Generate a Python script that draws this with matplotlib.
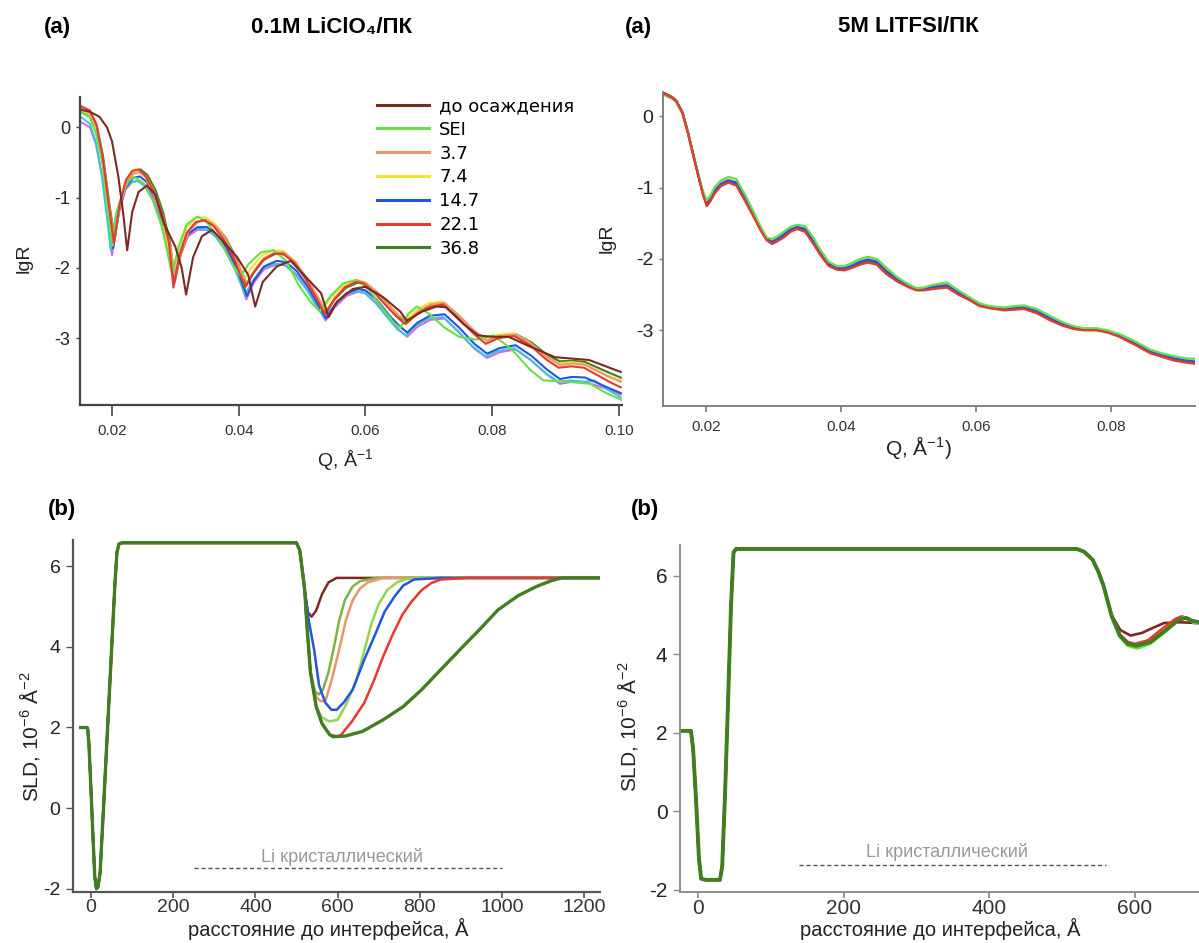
import numpy as np
import matplotlib
matplotlib.use("Agg")
import matplotlib.pyplot as plt

plt.rcParams['font.family'] = ['Liberation Sans', 'DejaVu Sans']
plt.rcParams['mathtext.fontset'] = 'custom'
plt.rcParams['mathtext.rm'] = 'Liberation Sans'
plt.rcParams['mathtext.it'] = 'Liberation Sans:italic'
plt.rcParams['mathtext.bf'] = 'Liberation Sans:bold'
plt.rcParams['axes.unicode_minus'] = False

W, H = 1199, 943

labels = ["до осаждения", "SEI", "3.7", "7.4", "14.7", "22.1", "36.8"]
colors = ["#7a2a20", "#66e04a", "#f0956a", "#f2e52c", "#2255e0", "#e8392e", "#3f7f22"]
sld_colors = ["#7a2a20", "#7cb342", "#e8956a", "#8fd651", "#2255e0", "#e8392e", "#3f7f22"]

# ---------- (a) 0.1M LiClO4 : reflectivity, one Q list per curve ----------
qa = {}
ra = {}
qa["до осаждения"] = [0.0150, 0.0165, 0.0180, 0.0192, 0.0200, 0.0210, 0.0218, 0.0224, 0.0232, 0.0242,
                      0.0255, 0.0268, 0.0282, 0.0300, 0.0310, 0.0317, 0.0328, 0.0342, 0.0358, 0.0375,
                      0.0397, 0.0415, 0.0426, 0.0438, 0.0460, 0.0482, 0.0506, 0.0530, 0.0542, 0.0555,
                      0.0580, 0.0600, 0.0627, 0.0655, 0.0665, 0.0690, 0.0712, 0.0727, 0.0755, 0.0778,
                      0.0800, 0.0826, 0.0860, 0.0899, 0.0953, 0.1003]
ra["до осаждения"] = [0.25, 0.22, 0.15, 0.00, -0.20, -0.70, -1.25, -1.75, -1.20, -0.92,
                      -0.83, -0.95, -1.37, -1.70, -2.00, -2.38, -1.85, -1.55, -1.46, -1.62,
                      -1.84, -2.10, -2.55, -2.20, -1.98, -1.90, -2.13, -2.36, -2.70, -2.48,
                      -2.30, -2.27, -2.41, -2.62, -2.75, -2.62, -2.55, -2.56, -2.80, -2.96,
                      -2.98, -2.98, -3.12, -3.27, -3.31, -3.48]
qa["SEI"] = [0.0150, 0.0165, 0.0175, 0.0186, 0.0194, 0.0200, 0.0208, 0.0220, 0.0230, 0.0238,
             0.0250, 0.0265, 0.0280, 0.0288, 0.0295, 0.0305, 0.0318, 0.0335, 0.0350, 0.0370,
             0.0390, 0.0403, 0.0415, 0.0435, 0.0455, 0.0475, 0.0495, 0.0515, 0.0528, 0.0545,
             0.0565, 0.0586, 0.0605, 0.0625, 0.0645, 0.0655, 0.0668, 0.0681, 0.0700, 0.0725,
             0.0748, 0.0775, 0.0802, 0.0830, 0.0860, 0.0881, 0.0920, 0.0955, 0.0980, 0.1005]
ra["SEI"] = [0.22, 0.15, -0.10, -0.55, -1.20, -1.68, -1.20, -0.85, -0.73, -0.72,
             -0.80, -1.05, -1.45, -1.80, -2.10, -1.70, -1.38, -1.27, -1.35, -1.60,
             -1.95, -2.12, -1.95, -1.78, -1.75, -1.90, -2.25, -2.50, -2.62, -2.40,
             -2.22, -2.17, -2.30, -2.55, -2.78, -2.85, -2.65, -2.55, -2.65, -2.85,
             -2.98, -3.02, -2.96, -3.15, -3.45, -3.60, -3.62, -3.65, -3.78, -3.88]
qa["3.7"] = [0.0150, 0.0165, 0.0176, 0.0186, 0.0196, 0.0204, 0.0213, 0.0224, 0.0234, 0.0244,
             0.0255, 0.0268, 0.0280, 0.0292, 0.0300, 0.0309, 0.0321, 0.0336, 0.0350, 0.0365,
             0.0380, 0.0396, 0.0413, 0.0424, 0.0440, 0.0458, 0.0473, 0.0490, 0.0508, 0.0524,
             0.0538, 0.0552, 0.0570, 0.0588, 0.0600, 0.0618, 0.0638, 0.0653, 0.0667, 0.0683,
             0.0703, 0.0725, 0.0748, 0.0772, 0.0792, 0.0812, 0.0837, 0.0862, 0.0887, 0.0907,
             0.0927, 0.0947, 0.0967, 0.0987, 0.1003]
ra["3.7"] = [0.28, 0.20, 0.00, -0.45, -1.15, -1.60, -1.10, -0.78, -0.66, -0.64,
             -0.72, -0.94, -1.25, -1.70, -2.15, -1.80, -1.48, -1.34, -1.33, -1.42,
             -1.60, -1.88, -2.22, -2.05, -1.86, -1.78, -1.79, -1.92, -2.16, -2.40,
             -2.62, -2.42, -2.26, -2.19, -2.21, -2.34, -2.54, -2.68, -2.76, -2.62,
             -2.52, -2.50, -2.68, -2.90, -3.04, -2.97, -2.95, -3.08, -3.27, -3.38,
             -3.36, -3.38, -3.47, -3.56, -3.62]
qa["7.4"] = [0.0150, 0.0165, 0.0175, 0.0185, 0.0194, 0.0201, 0.0210, 0.0221, 0.0231, 0.0241,
             0.0252, 0.0265, 0.0278, 0.0289, 0.0297, 0.0306, 0.0318, 0.0333, 0.0347, 0.0362,
             0.0377, 0.0393, 0.0409, 0.0420, 0.0437, 0.0455, 0.0470, 0.0487, 0.0505, 0.0520,
             0.0533, 0.0548, 0.0566, 0.0584, 0.0596, 0.0614, 0.0634, 0.0650, 0.0663, 0.0680,
             0.0700, 0.0722, 0.0745, 0.0769, 0.0789, 0.0809, 0.0834, 0.0859, 0.0884, 0.0904,
             0.0924, 0.0944, 0.0964, 0.0984, 0.1003]
ra["7.4"] = [0.26, 0.18, -0.05, -0.50, -1.20, -1.68, -1.15, -0.78, -0.64, -0.62,
             -0.70, -0.92, -1.25, -1.70, -2.05, -1.72, -1.42, -1.29, -1.28, -1.37,
             -1.56, -1.84, -2.15, -2.00, -1.82, -1.75, -1.76, -1.90, -2.14, -2.38,
             -2.58, -2.40, -2.24, -2.17, -2.19, -2.32, -2.52, -2.66, -2.74, -2.60,
             -2.50, -2.48, -2.66, -2.88, -3.02, -2.95, -2.93, -3.06, -3.25, -3.36,
             -3.34, -3.36, -3.45, -3.54, -3.60]
qa["14.7"] = [0.0150, 0.0165, 0.0175, 0.0185, 0.0195, 0.0202, 0.0211, 0.0222, 0.0233, 0.0244,
              0.0255, 0.0268, 0.0280, 0.0291, 0.0299, 0.0308, 0.0320, 0.0335, 0.0350, 0.0365,
              0.0380, 0.0396, 0.0413, 0.0424, 0.0440, 0.0460, 0.0475, 0.0492, 0.0510, 0.0525,
              0.0538, 0.0552, 0.0570, 0.0588, 0.0600, 0.0618, 0.0638, 0.0653, 0.0666, 0.0682,
              0.0702, 0.0725, 0.0748, 0.0772, 0.0792, 0.0812, 0.0837, 0.0862, 0.0887, 0.0907,
              0.0927, 0.0947, 0.0967, 0.0987, 0.1003]
ra["14.7"] = [0.22, 0.15, -0.05, -0.48, -1.20, -1.72, -1.20, -0.85, -0.72, -0.70,
              -0.78, -1.00, -1.32, -1.75, -2.15, -1.80, -1.52, -1.42, -1.42, -1.52,
              -1.70, -1.98, -2.40, -2.18, -1.98, -1.90, -1.92, -2.05, -2.28, -2.52,
              -2.72, -2.52, -2.36, -2.30, -2.32, -2.45, -2.68, -2.82, -2.92, -2.78,
              -2.68, -2.66, -2.85, -3.08, -3.22, -3.14, -3.10, -3.25, -3.45, -3.58,
              -3.55, -3.56, -3.64, -3.72, -3.78]
qa["22.1"] = [0.0150, 0.0165, 0.0175, 0.0185, 0.0195, 0.0203, 0.0212, 0.0222, 0.0232, 0.0242,
              0.0252, 0.0265, 0.0278, 0.0290, 0.0297, 0.0306, 0.0318, 0.0332, 0.0345, 0.0360,
              0.0375, 0.0392, 0.0410, 0.0421, 0.0437, 0.0455, 0.0470, 0.0488, 0.0505, 0.0522,
              0.0536, 0.0550, 0.0567, 0.0585, 0.0597, 0.0615, 0.0635, 0.0650, 0.0663, 0.0680,
              0.0700, 0.0722, 0.0745, 0.0770, 0.0790, 0.0810, 0.0835, 0.0860, 0.0885, 0.0905,
              0.0925, 0.0945, 0.0965, 0.0985, 0.1003]
ra["22.1"] = [0.30, 0.24, 0.05, -0.40, -1.10, -1.65, -1.10, -0.75, -0.62, -0.60,
              -0.68, -0.90, -1.20, -1.65, -2.28, -1.85, -1.50, -1.35, -1.32, -1.40,
              -1.58, -1.85, -2.28, -2.10, -1.90, -1.80, -1.80, -1.93, -2.15, -2.42,
              -2.66, -2.46, -2.28, -2.20, -2.22, -2.36, -2.56, -2.70, -2.80, -2.66,
              -2.56, -2.52, -2.70, -2.93, -3.08, -3.00, -2.97, -3.10, -3.30, -3.42,
              -3.40, -3.42, -3.52, -3.62, -3.70]
qa["36.8"] = [0.0150, 0.0165, 0.0176, 0.0186, 0.0196, 0.0204, 0.0213, 0.0224, 0.0235, 0.0245,
              0.0256, 0.0269, 0.0281, 0.0292, 0.0299, 0.0308, 0.0321, 0.0336, 0.0350, 0.0365,
              0.0380, 0.0396, 0.0412, 0.0423, 0.0440, 0.0458, 0.0473, 0.0490, 0.0508, 0.0524,
              0.0538, 0.0552, 0.0570, 0.0588, 0.0600, 0.0618, 0.0638, 0.0653, 0.0666, 0.0683,
              0.0703, 0.0725, 0.0748, 0.0772, 0.0792, 0.0812, 0.0837, 0.0862, 0.0887, 0.0907,
              0.0927, 0.0947, 0.0967, 0.0987, 0.1003]
ra["36.8"] = [0.30, 0.22, 0.02, -0.42, -1.10, -1.58, -1.08, -0.74, -0.62, -0.60,
              -0.68, -0.90, -1.22, -1.66, -2.20, -1.82, -1.48, -1.34, -1.32, -1.41,
              -1.58, -1.86, -2.25, -2.08, -1.88, -1.80, -1.81, -1.94, -2.16, -2.42,
              -2.64, -2.44, -2.28, -2.21, -2.23, -2.36, -2.56, -2.70, -2.78, -2.64,
              -2.55, -2.52, -2.70, -2.90, -3.03, -2.96, -2.94, -3.06, -3.24, -3.33,
              -3.32, -3.34, -3.42, -3.50, -3.56]
# two extra curves without legend entry
q_magenta = [0.0150, 0.0165, 0.0175, 0.0186, 0.0195, 0.0200, 0.0208, 0.0220, 0.0232, 0.0243,
             0.0255, 0.0268, 0.0280, 0.0291, 0.0298, 0.0307, 0.0320, 0.0335, 0.0350, 0.0365,
             0.0380, 0.0396, 0.0412, 0.0423, 0.0440, 0.0460, 0.0475, 0.0492, 0.0510, 0.0525,
             0.0537, 0.0552, 0.0570, 0.0588, 0.0600, 0.0618, 0.0638, 0.0653, 0.0666, 0.0682,
             0.0702, 0.0725, 0.0748, 0.0772, 0.0792, 0.0812, 0.0837, 0.0862, 0.0887, 0.0907,
             0.0927, 0.0947, 0.0967, 0.0987, 0.1003]
r_magenta = [0.08, 0.00, -0.25, -0.75, -1.40, -1.82, -1.30, -0.90, -0.78, -0.76,
             -0.84, -1.05, -1.38, -1.80, -2.20, -1.85, -1.55, -1.46, -1.46, -1.56,
             -1.74, -2.02, -2.45, -2.22, -2.02, -1.95, -1.97, -2.10, -2.33, -2.56,
             -2.75, -2.56, -2.40, -2.34, -2.36, -2.50, -2.72, -2.88, -2.98, -2.84,
             -2.74, -2.72, -2.92, -3.15, -3.28, -3.20, -3.16, -3.32, -3.52, -3.65,
             -3.62, -3.62, -3.68, -3.74, -3.80]
q_cyan = [0.0150, 0.0165, 0.0174, 0.0184, 0.0193, 0.0198, 0.0206, 0.0218, 0.0230, 0.0240,
          0.0252, 0.0265, 0.0278, 0.0289, 0.0296, 0.0305, 0.0318, 0.0333, 0.0348, 0.0363,
          0.0378, 0.0394, 0.0410, 0.0421, 0.0438, 0.0458, 0.0473, 0.0490, 0.0508, 0.0523,
          0.0535, 0.0550, 0.0568, 0.0586, 0.0598, 0.0616, 0.0636, 0.0651, 0.0664, 0.0680,
          0.0700, 0.0723, 0.0746, 0.0770, 0.0790, 0.0810, 0.0835, 0.0860, 0.0885, 0.0905,
          0.0925, 0.0945, 0.0962, 0.0980, 0.1003]
r_cyan = [0.15, 0.05, -0.20, -0.70, -1.35, -1.75, -1.25, -0.90, -0.78, -0.76,
          -0.84, -1.05, -1.38, -1.80, -2.10, -1.80, -1.52, -1.44, -1.45, -1.55,
          -1.74, -2.02, -2.38, -2.20, -2.00, -1.94, -1.96, -2.10, -2.32, -2.55,
          -2.70, -2.55, -2.38, -2.33, -2.35, -2.50, -2.72, -2.88, -2.96, -2.82,
          -2.72, -2.70, -2.90, -3.12, -3.26, -3.18, -3.14, -3.30, -3.50, -3.62,
          -3.60, -3.62, -3.60, -3.72, -3.84]

# ---------- (a) 5M LiTFSI : reflectivity on a shared Q grid ----------
qb = [0.0137, 0.0150, 0.0156, 0.0165, 0.0173, 0.0180, 0.0187, 0.0195, 0.0201, 0.0206,
      0.0213, 0.0222, 0.0233, 0.0245, 0.0258, 0.0270, 0.0281, 0.0290, 0.0298, 0.0306,
      0.0315, 0.0325, 0.0335, 0.0347, 0.0359, 0.0370, 0.0382, 0.0394, 0.0405, 0.0415,
      0.0428, 0.0440, 0.0453, 0.0467, 0.0484, 0.0501, 0.0512, 0.0522, 0.0537, 0.0557,
      0.0574, 0.0591, 0.0605, 0.0620, 0.0642, 0.0657, 0.0671, 0.0690, 0.0710, 0.0727,
      0.0744, 0.0760, 0.0778, 0.0795, 0.0812, 0.0835, 0.0858, 0.0875, 0.0892, 0.0910, 0.0925]
rb = {}
rb["до осаждения"] = [0.33, 0.27, 0.22, 0.06, -0.21, -0.49, -0.76, -1.07, -1.24, -1.18, -1.06, -0.96, -0.92, -0.95, -1.17,
                      -1.38, -1.59, -1.73, -1.78, -1.74, -1.68, -1.61, -1.57, -1.61, -1.77, -1.94, -2.09, -2.14, -2.15, -2.12,
                      -2.07, -2.04, -2.07, -2.20, -2.31, -2.39, -2.43, -2.43, -2.41, -2.39, -2.49, -2.57, -2.65, -2.68, -2.71,
                      -2.70, -2.69, -2.75, -2.85, -2.92, -2.97, -2.99, -2.99, -3.02, -3.08, -3.19, -3.31, -3.36, -3.41, -3.44, -3.46]
rb["SEI"] = [0.30, 0.25, 0.20, 0.04, -0.22, -0.50, -0.75, -1.04, -1.18, -1.12, -0.99, -0.90, -0.85, -0.88, -1.10,
             -1.33, -1.55, -1.70, -1.72, -1.68, -1.62, -1.55, -1.52, -1.54, -1.70, -1.88, -2.04, -2.10, -2.10, -2.06,
             -2.00, -1.97, -2.00, -2.12, -2.26, -2.36, -2.41, -2.40, -2.36, -2.33, -2.44, -2.54, -2.62, -2.66, -2.68,
             -2.66, -2.65, -2.70, -2.80, -2.88, -2.94, -2.97, -2.97, -3.00, -3.05, -3.15, -3.27, -3.32, -3.36, -3.39, -3.40]
rb["3.7"] = [0.31, 0.25, 0.20, 0.04, -0.23, -0.51, -0.77, -1.05, -1.20, -1.14, -1.02, -0.93, -0.89, -0.92, -1.14,
             -1.36, -1.57, -1.71, -1.75, -1.71, -1.65, -1.58, -1.55, -1.58, -1.74, -1.91, -2.06, -2.12, -2.12, -2.09,
             -2.03, -2.00, -2.03, -2.16, -2.28, -2.37, -2.42, -2.41, -2.38, -2.36, -2.46, -2.55, -2.63, -2.67, -2.69,
             -2.67, -2.66, -2.72, -2.82, -2.90, -2.95, -2.98, -2.98, -3.01, -3.07, -3.17, -3.29, -3.34, -3.38, -3.41, -3.43]
rb["7.4"] = [0.31, 0.26, 0.21, 0.05, -0.22, -0.50, -0.76, -1.05, -1.21, -1.15, -1.03, -0.94, -0.90, -0.93, -1.15,
             -1.37, -1.58, -1.72, -1.76, -1.72, -1.66, -1.59, -1.56, -1.59, -1.76, -1.92, -2.07, -2.13, -2.14, -2.10,
             -2.05, -2.02, -2.05, -2.18, -2.30, -2.38, -2.43, -2.42, -2.39, -2.37, -2.48, -2.57, -2.65, -2.68, -2.70,
             -2.69, -2.68, -2.74, -2.84, -2.92, -2.96, -2.99, -2.99, -3.02, -3.08, -3.19, -3.31, -3.36, -3.40, -3.43, -3.45]
rb["14.7"] = [0.31, 0.25, 0.21, 0.05, -0.22, -0.50, -0.76, -1.06, -1.22, -1.16, -1.04, -0.95, -0.90, -0.93, -1.15,
              -1.37, -1.58, -1.72, -1.76, -1.72, -1.66, -1.59, -1.55, -1.58, -1.75, -1.92, -2.07, -2.13, -2.13, -2.10,
              -2.04, -2.01, -2.04, -2.17, -2.29, -2.38, -2.42, -2.42, -2.39, -2.37, -2.47, -2.56, -2.64, -2.68, -2.70,
              -2.69, -2.68, -2.73, -2.83, -2.91, -2.96, -2.99, -2.99, -3.02, -3.07, -3.18, -3.30, -3.35, -3.39, -3.42, -3.44]
rb["22.1"] = [0.32, 0.26, 0.21, 0.05, -0.22, -0.50, -0.77, -1.08, -1.26, -1.20, -1.08, -0.98, -0.93, -0.97, -1.19,
              -1.40, -1.60, -1.74, -1.79, -1.75, -1.70, -1.62, -1.58, -1.62, -1.79, -1.95, -2.10, -2.15, -2.16, -2.13,
              -2.08, -2.05, -2.08, -2.21, -2.32, -2.40, -2.44, -2.44, -2.42, -2.40, -2.50, -2.58, -2.66, -2.69, -2.72,
              -2.71, -2.70, -2.76, -2.86, -2.93, -2.98, -3.00, -3.00, -3.03, -3.09, -3.20, -3.32, -3.37, -3.42, -3.45, -3.47]
rb["36.8"] = [0.32, 0.26, 0.21, 0.05, -0.22, -0.50, -0.77, -1.07, -1.23, -1.17, -1.05, -0.96, -0.91, -0.95, -1.17,
              -1.38, -1.59, -1.73, -1.77, -1.73, -1.67, -1.60, -1.57, -1.60, -1.77, -1.93, -2.08, -2.14, -2.15, -2.11,
              -2.06, -2.03, -2.06, -2.19, -2.31, -2.39, -2.43, -2.43, -2.40, -2.38, -2.49, -2.57, -2.65, -2.68, -2.71,
              -2.70, -2.69, -2.75, -2.85, -2.92, -2.97, -2.99, -2.99, -3.02, -3.08, -3.19, -3.31, -3.36, -3.41, -3.44, -3.46]

# ---------- (b) SLD profiles, 0.1M LiClO4 ----------
zc_left = [-25, -10, -8, -5, 0, 5, 9, 13, 17, 22, 30, 40, 50, 58, 63, 68, 75, 300, 500, 508, 515]
sc_left = [2.0, 2.0, 1.95, 1.55, 0.4, -0.8, -1.7, -2.0, -1.95, -1.6, -0.05, 1.95, 3.95, 5.55, 6.35, 6.55, 6.58, 6.58, 6.58, 6.4, 5.84]
zl = {}
sl = {}
zl["до осаждения"] = [520, 528, 537, 548, 562, 578, 598, 1239]
sl["до осаждения"] = [5.42, 4.85, 4.75, 4.9, 5.3, 5.6, 5.71, 5.71]
zl["SEI"] = [520, 525, 534, 545, 555, 565, 578, 590, 604, 618, 637, 655, 694, 1239]
sl["SEI"] = [5.42, 4.6, 3.37, 2.9, 2.82, 2.95, 3.37, 3.93, 4.65, 5.16, 5.5, 5.63, 5.71, 5.71]
zl["3.7"] = [520, 525, 534, 548, 560, 571, 585, 604, 620, 637, 655, 674, 711, 1239]
sl["3.7"] = [5.42, 4.6, 3.37, 2.75, 2.65, 2.68, 3.15, 3.93, 4.65, 5.16, 5.45, 5.6, 5.71, 5.71]
zl["7.4"] = [520, 525, 534, 548, 562, 580, 600, 620, 646, 665, 683, 700, 721, 745, 767, 800, 1239]
sl["7.4"] = [5.42, 4.6, 3.37, 2.52, 2.25, 2.15, 2.19, 2.55, 3.18, 3.9, 4.59, 5.05, 5.41, 5.6, 5.68, 5.71, 5.71]
zl["14.7"] = [520, 530, 543, 555, 570, 585, 598, 615, 637, 665, 693, 715, 739, 760, 786, 851, 1239]
sl["14.7"] = [5.42, 4.65, 3.93, 3.05, 2.62, 2.44, 2.44, 2.62, 2.94, 3.68, 4.34, 4.88, 5.25, 5.52, 5.67, 5.71, 5.71]
zl["22.1"] = [520, 525, 534, 548, 562, 581, 600, 609, 635, 665, 690, 711, 735, 758, 780, 805, 828, 851, 917, 1239]
sl["22.1"] = [5.42, 4.6, 3.37, 2.52, 2.1, 1.82, 1.78, 1.82, 2.15, 2.61, 3.2, 3.76, 4.32, 4.8, 5.12, 5.41, 5.58, 5.67, 5.71, 5.71]
zl["36.8"] = [520, 525, 534, 548, 562, 581, 590, 620, 660, 711, 760, 805, 850, 898, 945, 991, 1040, 1085, 1120, 1146, 1239]
sl["36.8"] = [5.42, 4.6, 3.37, 2.52, 2.1, 1.82, 1.77, 1.79, 1.9, 2.19, 2.52, 2.94, 3.42, 3.93, 4.42, 4.92, 5.27, 5.5, 5.64, 5.71, 5.71]

# ---------- (b) SLD profiles, 5M LiTFSI ----------
zc_right = [-25, -10, -7, -3, 1, 4, 10, 30, 33, 37, 41, 45, 48.5, 52, 300, 520, 530, 537]
sc_right = [2.05, 2.05, 1.6, 0.3, -1.2, -1.72, -1.75, -1.75, -1.4, 0.5, 2.8, 5.2, 6.6, 6.69, 6.69, 6.69, 6.62, 6.5]
zr = {}
sr = {}
zr["до осаждения"] = [542, 550, 557, 568, 580, 594, 610, 625, 640, 660, 688]
sr["до осаждения"] = [6.41, 6.1, 5.74, 5.0, 4.62, 4.48, 4.55, 4.68, 4.8, 4.82, 4.8]
zr["SEI"] = [542, 550, 557, 568, 579, 590, 603, 621, 642, 658, 668, 676, 681, 688]
sr["SEI"] = [6.41, 6.08, 5.72, 4.95, 4.45, 4.22, 4.15, 4.27, 4.58, 4.86, 4.95, 4.88, 4.8, 4.8]
zr["3.7"] = [542, 550, 557, 568, 579, 590, 602, 621, 642, 660, 670, 678, 688]
sr["3.7"] = [6.41, 6.1, 5.74, 4.98, 4.5, 4.28, 4.22, 4.32, 4.62, 4.9, 4.95, 4.85, 4.82]
zr["7.4"] = [542, 550, 557, 568, 579, 590, 601, 620, 641, 659, 669, 677, 688]
sr["7.4"] = [6.41, 6.1, 5.73, 4.97, 4.48, 4.26, 4.2, 4.3, 4.6, 4.88, 4.94, 4.86, 4.82]
zr["14.7"] = [542, 550, 557, 568, 579, 590, 600, 619, 640, 657, 667, 675, 681, 688]
sr["14.7"] = [6.41, 6.09, 5.73, 4.96, 4.47, 4.24, 4.18, 4.28, 4.57, 4.84, 4.93, 4.9, 4.8, 4.8]
zr["22.1"] = [542, 550, 557, 568, 579, 590, 600, 618, 638, 655, 664, 673, 680, 688]
sr["22.1"] = [6.41, 6.1, 5.75, 5.0, 4.52, 4.32, 4.27, 4.36, 4.66, 4.9, 4.97, 4.92, 4.82, 4.82]
zr["36.8"] = [542, 550, 557, 568, 579, 590, 602, 621, 642, 660, 670, 678, 688]
sr["36.8"] = [6.41, 6.1, 5.74, 4.98, 4.49, 4.27, 4.22, 4.31, 4.61, 4.88, 4.93, 4.86, 4.82]

li_left = ([250, 1000], -1.48)
li_right = ([138, 560], -1.37)


def px_axes(l, t, r, b):
    return fig.add_axes([l / W, 1 - b / H, (r - l) / W, (b - t) / H])


def style(ax, col, lw, size, xlen, ylen, xpad=6):
    for s in ["top", "right"]:
        ax.spines[s].set_visible(False)
    for s in ["left", "bottom"]:
        ax.spines[s].set_color(col)
        ax.spines[s].set_linewidth(lw)
    ax.tick_params(axis="x", colors=col, length=xlen, width=1.2, labelsize=size, labelcolor="#333333", pad=xpad)
    ax.tick_params(axis="y", colors=col, length=ylen, width=1.0, labelsize=size + 2, labelcolor="#222222", pad=4)


def txt(x, y, s, **kw):
    fig.text(x / W, 1 - y / H, s, ha="center", va="center", **kw)


fig = plt.figure(figsize=(W / 100, H / 100), dpi=100)

# top left
ax1 = px_axes(80, 97, 622, 405)
ax1.plot(q_magenta, r_magenta, color="#e060e0", lw=1.4)
ax1.plot(q_cyan, r_cyan, color="#35c8d8", lw=1.4)
for k in [6, 4, 3, 2, 1, 5, 0]:
    ax1.plot(qa[labels[k]], ra[labels[k]], color=colors[k], lw=1.5, label=labels[k])
ax1.set_xlim(0.01495, 0.1005)
ax1.set_ylim(-3.95, 0.43)
ax1.set_xticks([0.02, 0.04, 0.06, 0.08, 0.10])
ax1.set_xticklabels(["0.02", "0.04", "0.06", "0.08", "0.10"])
ax1.set_yticks([0, -1, -2, -3])
style(ax1, "#444444", 1.6, 11, 8, 3)
hs, ls = ax1.get_legend_handles_labels()
order = [ls.index(n) for n in labels]
leg = ax1.legend([hs[i] for i in order], labels, loc="upper left",
                 bbox_to_anchor=(368 / W, 1 - 88 / H), bbox_transform=fig.transFigure,
                 frameon=False, handlelength=2.9, labelspacing=0.32, handletextpad=0.55,
                 borderpad=0, prop={"family": "DejaVu Sans", "size": 13})
for h in leg.get_lines():
    h.set_linewidth(2.2)

# top right
ax2 = px_axes(663, 92, 1195, 406)
for k in [0, 3, 2, 6, 4, 1, 5]:
    ax2.plot(qb, rb[labels[k]], color=colors[k], lw=1.6)
ax2.set_xlim(0.01363, 0.09244)
ax2.set_ylim(-4.06, 0.34)
ax2.set_xticks([0.02, 0.04, 0.06, 0.08])
ax2.set_xticklabels(["0.02", "0.04", "0.06", "0.08"])
ax2.set_yticks([0, -1, -2, -3])
style(ax2, "#777777", 1.3, 11, 4, 3)
ax2.tick_params(axis="y", labelsize=14)

# bottom left
ax3 = px_axes(73, 540, 600, 892)
for k in [0, 1, 2, 3, 4, 5, 6]:
    n = labels[k]
    z = zc_left + zl[n]
    s = sc_left + sl[n]
    ax3.plot(z, s, color=sld_colors[k], lw=2.4 if k == 6 else 1.8)
ax3.plot(li_left[0], [li_left[1]] * 2, color="#555555", lw=1.0, ls=(0, (3, 2)))
ax3.text(610, -1.21, "Li кристаллический", color="#999999", fontsize=13, ha="center", va="center")
ax3.set_xlim(-44, 1239)
ax3.set_ylim(-2.08, 6.65)
ax3.set_xticks([0, 200, 400, 600, 800, 1000, 1200])
ax3.set_yticks([6, 4, 2, 0, -2])
style(ax3, "#555555", 1.6, 14, 4, 5, xpad=1)
ax3.tick_params(axis="y", labelsize=14)

# bottom right
ax4 = px_axes(680, 545, 1199, 892)
for k in [0, 2, 3, 4, 5, 1, 6]:
    n = labels[k]
    z = zc_right + zr[n]
    s = sc_right + sr[n]
    ax4.plot(z, s, color=colors[k] if k != 3 else "#c8d23a", lw=2.8 if k == 6 else 1.9)
ax4.plot(li_right[0], [li_right[1]] * 2, color="#555555", lw=1.0, ls=(0, (3, 2)))
ax4.text(342, -1.04, "Li кристаллический", color="#999999", fontsize=13, ha="center", va="center")
ax4.set_xlim(-25, 688)
ax4.set_ylim(-2.06, 6.79)
ax4.set_xticks([0, 200, 400, 600])
ax4.set_yticks([6, 4, 2, 0, -2])
style(ax4, "#888888", 1.3, 15, 4, 5, xpad=1)
ax4.tick_params(axis="y", labelsize=15)

# titles and axis labels
txt(57, 27, "(a)", fontsize=16, fontweight="bold")
txt(332, 27, "0.1M LiClO₄/ПК", fontsize=16, fontweight="bold")
txt(638, 27, "(a)", fontsize=16, fontweight="bold")
txt(908, 27, "5M LITFSI/ПК", fontsize=16, fontweight="bold")
txt(62, 510, "(b)", fontsize=16, fontweight="bold")
txt(645, 510, "(b)", fontsize=16, fontweight="bold")

txt(24, 258, "lgR", fontsize=14, rotation=90, color="#222222")
txt(345, 460, "Q, Å$^{-1}$", fontsize=14, color="#222222")
txt(607, 238, "lgR", fontsize=14, rotation=90, color="#222222")
txt(918, 448, "Q, Å$^{-1}$)", fontsize=15, color="#222222")
txt(29, 737, "SLD, 10$^{-6}$ Å$^{-2}$", fontsize=15, rotation=90, color="#222222")
txt(627, 727, "SLD, 10$^{-6}$ Å$^{-2}$", fontsize=15, rotation=90, color="#222222")
txt(328, 929, "расстояние до интерфейса, Å", fontsize=14.5, color="#222222")
txt(940, 929, "расстояние до интерфейса, Å", fontsize=14.5, color="#222222")

fig.savefig("out.png", dpi=100)
